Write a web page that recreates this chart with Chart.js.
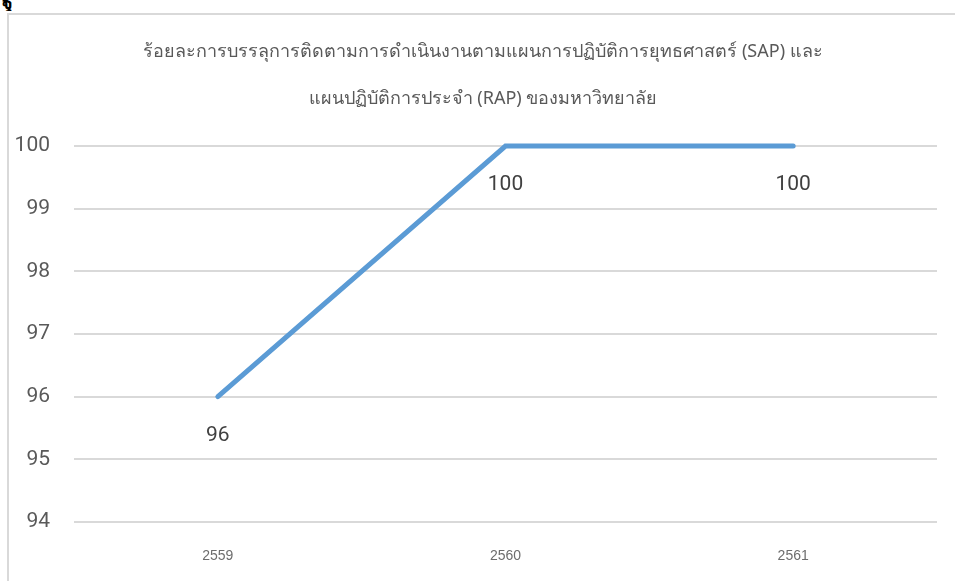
<!DOCTYPE html>
<html>
<head>
<meta charset="utf-8">
<script src="https://cdn.jsdelivr.net/npm/chart.js@4/dist/chart.umd.min.js"></script>
<style>
  html, body { margin: 0; padding: 0; background: #fff; width: 955px; height: 581px; overflow: hidden; }
  #frame { position: absolute; left: 7px; top: 13px; width: 1000px; height: 700px;
           border-left: 2px solid #d9d9d9; border-top: 2px solid #d9d9d9; }
  #clip { position: absolute; left: 2px; top: 0; width: 40px; height: 11px; overflow: hidden; }
  #clip span { position: absolute; left: 0; top: -14px; font: bold 20px "Noto Sans", sans-serif; color: #000; }
  #wrap { position: absolute; left: 0; top: 0; width: 955px; height: 581px; }
</style>
</head>
<body>
<div id="clip"><span>ฐ</span></div>
<div id="frame"></div>
<div id="wrap"><canvas id="c" width="955" height="581"></canvas></div>
<script>
const titleLines = [
  'ร้อยละการบรรลุการติดตามการดำเนินงานตามแผนการปฏิบัติการยุทธศาสตร์ (SAP) และ',
  'แผนปฏิบัติการประจำ (RAP) ของมหาวิทยาลัย'
];
const categories = ['2559', '2560', '2561'];
const values = [96, 100, 100];
const yMin = 94;
const yMax = 100;
const yStep = 1;

const valueLabels = {
  id: 'valueLabels',
  afterDatasetsDraw(chart) {
    const ctx = chart.ctx;
    const meta = chart.getDatasetMeta(0);
    ctx.save();
    ctx.font = '21px Roboto, sans-serif';
    ctx.fillStyle = '#404040';
    ctx.textAlign = 'center';
    ctx.textBaseline = 'middle';
    meta.data.forEach((pt, i) => {
      ctx.fillText(String(values[i]), pt.x, pt.y + 39);
    });
    ctx.restore();
  }
};

new Chart(document.getElementById('c'), {
  type: 'line',
  data: {
    labels: categories,
    datasets: [{
      data: values,
      yAxisID: 'y',
      borderColor: '#5b9bd5',
      borderWidth: 5,
      pointRadius: 0,
      pointHoverRadius: 0,
      fill: false,
      tension: 0,
      borderCapStyle: 'round',
      clip: false
    }]
  },
  options: {
    responsive: false,
    animation: false,
    events: [],
    layout: { padding: { left: 11, right: 0, top: 0, bottom: 0 } },
    plugins: {
      legend: { display: false },
      tooltip: { enabled: false },
      title: {
        display: true,
        text: titleLines,
        color: '#595959',
        font: { family: '"Noto Sans", "DejaVu Sans", sans-serif', size: 18, weight: 'normal', lineHeight: 47/18 },
        padding: { top: 28, bottom: 24 }
      }
    },
    scales: {
      x: {
        offset: true,
        grid: { display: false, drawTicks: false },
        border: { display: false },
        ticks: { color: '#6d6d6d', font: { family: '"Liberation Sans", Arial, sans-serif', size: 14 }, padding: 26 },
        afterFit(s) { s.height = 59; }
      },
      y: {
        position: 'left',
        min: yMin,
        max: yMax,
        ticks: { stepSize: yStep, color: '#595959', font: { family: 'Roboto, sans-serif', size: 21 }, padding: 24 },
        grid: { color: '#d9d9d9', lineWidth: 2, drawTicks: false },
        border: { display: false },
        afterFit(s) { s.width = 63; }
      },
      yRight: {
        position: 'right',
        min: yMin,
        max: yMax,
        ticks: { display: false },
        grid: { display: false, drawTicks: false },
        border: { display: false },
        afterFit(s) { s.width = 18; }
      }
    }
  },
  plugins: [valueLabels]
});
</script>
</body>
</html>
